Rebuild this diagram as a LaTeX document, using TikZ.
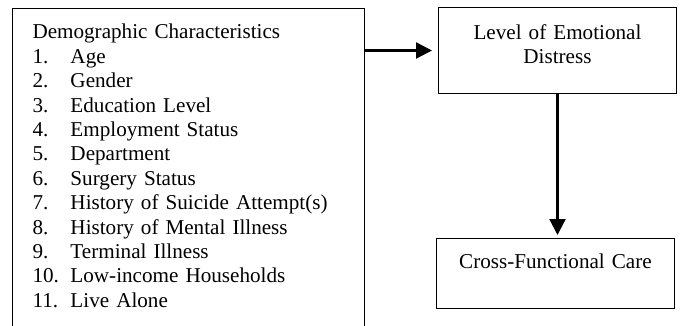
\documentclass[tikz,border=0pt]{standalone}
\usepackage{fontspec}
\setmainfont{Liberation Serif}
\usepackage{tikz}
\usetikzlibrary{arrows.meta}

\newcommand{\demoitem}[2]{\makebox[28.5pt][l]{#1.}#2}

\begin{document}
\begin{tikzpicture}[x=0.75pt,y=-0.75pt,
    box/.style={draw=black,line width=0.75pt,text height=10.8pt,
      font=\fontsize{15.85pt}{18.3pt}\selectfont},
    flow/.style={line width=1.7pt,-{Triangle[length=12pt,width=12pt]}}]
        \useasboundingbox (0,0) rectangle (681,325);
        \clip (0,0) rectangle (681,325);
        % Demographic characteristics (box runs off the bottom)
        \node[box,anchor=north west,align=left,text width=234pt,
          inner xsep=15pt,inner ysep=12pt,text depth=225pt] (demo) at (12,8)
          {Demographic Characteristics\\
           \demoitem{1}{Age}\\
           \demoitem{2}{Gender}\\
           \demoitem{3}{Education Level}\\
           \demoitem{4}{Employment Status}\\
           \demoitem{5}{Department}\\
           \demoitem{6}{Surgery Status}\\
           \demoitem{7}{History of Suicide Attempt(s)}\\
           \demoitem{8}{History of Mental Illness}\\
           \demoitem{9}{Terminal Illness}\\
           \demoitem{10}{Low-income Households}\\
           \demoitem{11}{Live Alone}};
        % Emotional distress
        \node[box,anchor=north west,align=center,text width=166.5pt,
          inner xsep=6pt,inner ysep=13.2pt,text depth=27.3pt] (distress) at (438,7)
          {Level of Emotional\\Distress};
        % Care
        \node[box,anchor=north west,align=center,text width=166.5pt,
          inner xsep=6pt,inner ysep=11.7pt,text depth=18.3pt] (care) at (436,238)
          {Cross-Functional Care};
        % Arrows
        \draw[flow,shorten >=4.5pt] (distress.west -| demo.east) -- (distress.west);
        \draw[flow,shorten >=2.25pt] (distress.south) -- (distress.south |- care.north);
\end{tikzpicture}
\end{document}
